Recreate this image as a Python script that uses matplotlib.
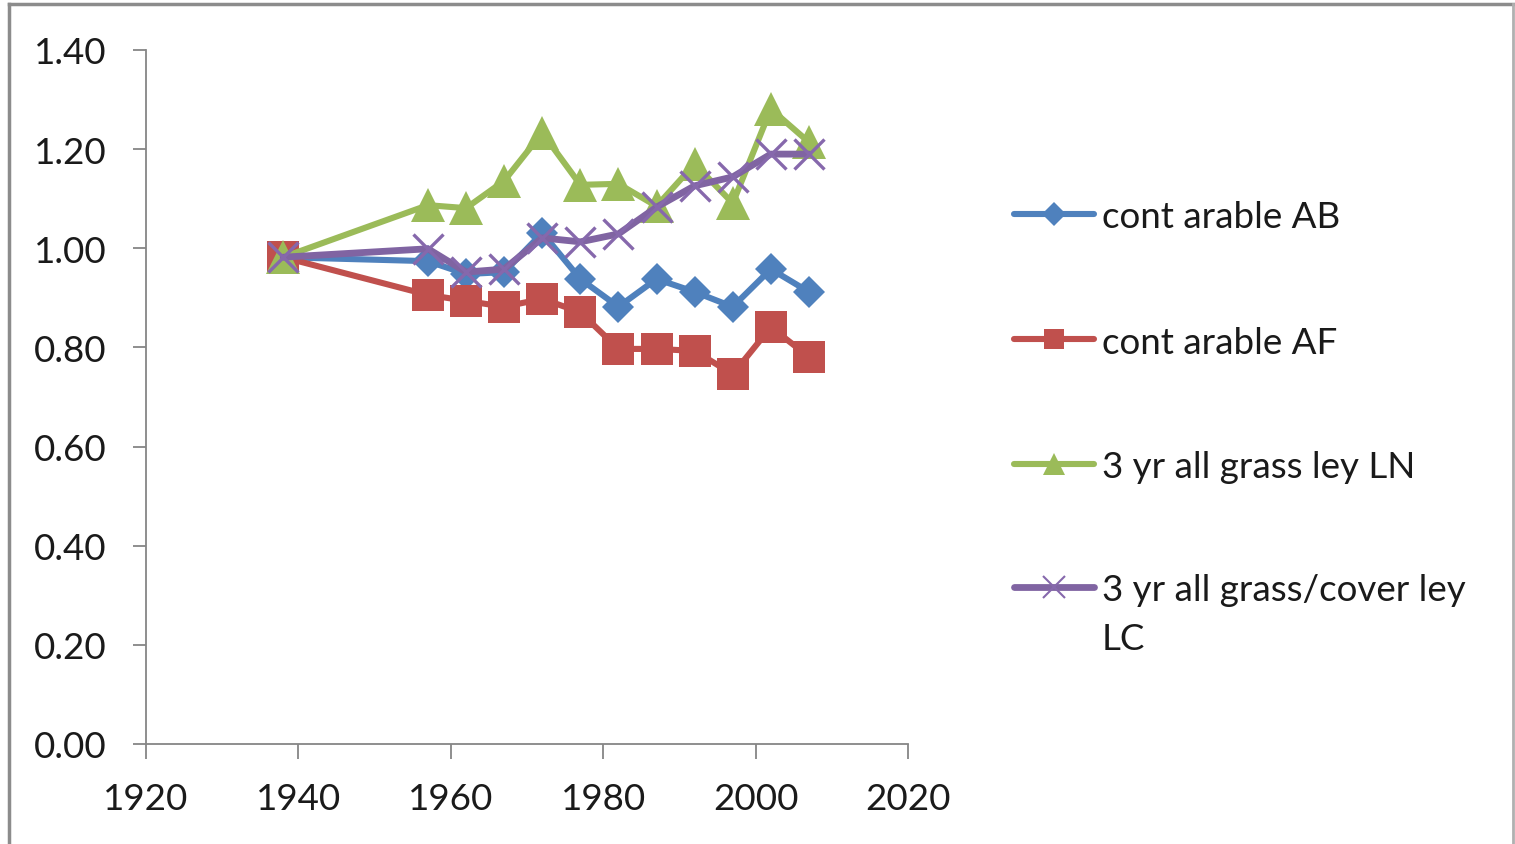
import matplotlib
matplotlib.use("Agg")
import matplotlib.pyplot as plt
from matplotlib.lines import Line2D

# Sampling years and relative values for each rotation treatment
years = [1938, 1957, 1962, 1967, 1972, 1977, 1982, 1987, 1992, 1997, 2002, 2007]
cont_arable_ab = [0.982, 0.974, 0.948, 0.952, 1.031, 0.938, 0.882, 0.938, 0.912, 0.882, 0.958, 0.912]
cont_arable_af = [0.982, 0.906, 0.894, 0.882, 0.898, 0.871, 0.797, 0.797, 0.793, 0.746, 0.841, 0.781]
grass_ley_ln = [0.982, 1.087, 1.081, 1.136, 1.233, 1.128, 1.130, 1.085, 1.170, 1.091, 1.281, 1.214]
cover_ley_lc = [0.982, 0.999, 0.952, 0.958, 1.021, 1.013, 1.029, 1.083, 1.126, 1.144, 1.190, 1.190]

series_labels = ["cont arable AB", "cont arable AF", "3 yr all grass ley LN",
                 "3 yr all grass/cover ley\nLC"]
x_ticks = [1920, 1940, 1960, 1980, 2000, 2020]
y_ticks = [0.0, 0.2, 0.4, 0.6, 0.8, 1.0, 1.2, 1.4]

plt.rcParams['font.family'] = ['Lato', 'DejaVu Sans']

W, H, DPI = 1515, 845, 100
FS = 26.5
TXT = "#1a1a1a"
fig = plt.figure(figsize=(W / DPI, H / DPI), dpi=DPI)
ax = fig.add_axes([146 / W, 1 - 745 / H, (908 - 146) / W, (745 - 51) / H])

styles = [
    dict(color="#4F81BD", marker="D", ms=16.5, mec="#4F81BD", mfc="#4F81BD", mew=0),
    dict(color="#C0504D", marker="s", ms=22.5, mec="#C0504D", mfc="#C0504D", mew=0),
    dict(color="#9BBB59", marker="^", ms=25, mec="#9BBB59", mfc="#9BBB59", mew=0),
    dict(color="#8064A2", marker="x", ms=22, mec="#8668AC", mew=2.4),
]
line_widths = [4.4, 4.4, 4.4, 4.9]
data = [cont_arable_ab, cont_arable_af, grass_ley_ln, cover_ley_lc]

for i, (vals, st, lw) in enumerate(zip(data, styles, line_widths)):
    ax.plot(years, vals, lw=lw, solid_joinstyle="round", solid_capstyle="round",
            zorder=3 + i, clip_on=False, **st)

ax.set_xlim(1920, 2020)
ax.set_ylim(0, 1.4)
ax.set_xticks(x_ticks)
ax.set_yticks(y_ticks)
ax.set_xticklabels([str(t) for t in x_ticks])
ax.set_yticklabels([f"{t:.2f}" for t in y_ticks])

for side in ("top", "right"):
    ax.spines[side].set_visible(False)
for side in ("left", "bottom"):
    ax.spines[side].set_color("#868686")
    ax.spines[side].set_linewidth(1.3)

ax.tick_params(axis="y", direction="out", length=9.5, width=1.3, color="#868686",
               pad=19, labelsize=FS, labelcolor=TXT)
ax.tick_params(axis="x", direction="out", length=10.5, width=1.3, color="#868686",
               pad=17, labelsize=FS, labelcolor=TXT)

# Legend drawn as figure-level artists
legend_y = [215, 340, 465, 588]
legend_sizes = [12, 15, 16, 16]
for (st, label, yy, ms, lw) in zip(styles, series_labels, legend_y, legend_sizes, line_widths):
    yf = 1 - yy / H
    fig.add_artist(Line2D([1014 / W, 1094 / W], [yf, yf], color=st["color"], lw=lw,
                          solid_capstyle="round", transform=fig.transFigure))
    mk = {k: v for k, v in st.items() if k not in ("ms", "color")}
    if mk["marker"] == "x":
        mk["mew"] = 1.5
    fig.add_artist(Line2D([1054 / W], [yf], ls="none", ms=ms, color=st["color"],
                          transform=fig.transFigure, **mk))
    lines = label.split("\n")
    fig.text(1102 / W, yf, lines[0], ha="left", va="center_baseline", fontsize=FS, color=TXT)
    if len(lines) > 1:
        fig.text(1102 / W, 1 - 636 / H, lines[1], ha="left", va="center_baseline",
                 fontsize=FS, color=TXT)

# Chart-area frame
frame_kw = dict(color="#8c8c8c", lw=2.5, transform=fig.transFigure)
fig.add_artist(Line2D([9 / W, 9 / W], [0, 1 - 5 / H], **frame_kw))
fig.add_artist(Line2D([9 / W, 1513 / W], [1 - 5 / H, 1 - 5 / H], **frame_kw))
fig.add_artist(Line2D([1513 / W, 1513 / W], [0, 1 - 5 / H], color="#b0b0b0", lw=2,
                      transform=fig.transFigure))

fig.savefig("out.png", dpi=DPI, facecolor="white")
